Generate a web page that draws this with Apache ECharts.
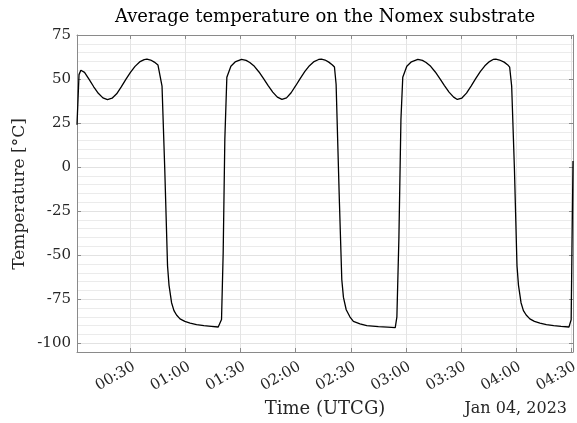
<!DOCTYPE html>
<html><head><meta charset="utf-8">
<script src="https://cdn.jsdelivr.net/npm/echarts@6/dist/echarts.min.js"></script>
<style>html,body{margin:0;padding:0;background:#fff}#c{width:577px;height:423px}</style>
</head><body><div id="c"></div><script>
// minutes after 2023-01-04 00:00 UTCG
const timeMin = [0.9,2.0,3.0,3.8,5.0,7.5,10.0,12.5,15.0,17.5,20.0,22.5,25.0,27.5,30.0,32.5,35.0,37.5,39.0,41.0,43.0,45.0,45.8,47.2,48.7,50.2,51.0,52.4,53.7,55.1,57.0,59.6,62.5,66.0,70.0,74.0,77.8,79.6,80.5,81.4,82.5,84.7,87.0,90.5,93.0,95.0,97.5,100.0,102.5,105.0,107.5,110.0,112.5,115.0,117.5,120.0,122.5,125.0,127.5,130.0,132.5,134.0,136.0,138.0,140.0,141.1,142.0,143.8,145.1,146.0,147.5,149.5,151.4,155.0,158.7,165.0,170.0,174.2,175.1,176.2,177.3,178.3,180.5,183.0,186.5,189.0,191.0,193.5,196.0,198.5,201.0,203.5,206.0,208.0,210.5,213.0,215.5,218.0,220.5,223.0,225.5,227.5,229.0,231.0,233.5,235.5,236.5,237.6,239.1,240.5,241.3,242.7,244.0,245.5,247.5,250.0,253.0,256.5,260.5,264.5,268.8,270.0,271.0];
const tempC = [24.0,52.5,55.0,55.5,53.8,49.8,45.6,41.9,39.3,38.3,39.1,41.6,45.5,49.8,53.8,57.2,59.7,61.0,61.3,60.8,59.6,57.9,56.8,46.0,-1.5,-56.0,-67.0,-77.0,-81.5,-84.0,-86.2,-87.6,-88.6,-89.5,-90.0,-90.4,-90.8,-86.6,-48.8,15.6,51.0,57.3,59.7,61.2,60.6,59.4,57.2,54.0,50.2,46.3,42.6,39.7,38.4,39.3,42.2,46.2,50.4,54.3,57.6,59.9,61.1,61.3,60.8,59.6,58.0,56.8,47.0,-20.0,-64.0,-74.0,-81.0,-85.0,-87.6,-89.0,-90.0,-90.6,-90.9,-91.2,-85.0,-40.0,27.0,51.0,57.3,59.8,61.2,60.6,59.4,57.2,54.0,50.2,46.3,42.6,39.7,38.4,39.2,42.0,46.0,50.2,54.2,57.5,59.9,61.1,61.3,60.8,59.6,58.0,56.8,46.0,-1.0,-56.0,-67.0,-77.0,-81.5,-84.0,-86.2,-87.6,-88.6,-89.5,-90.0,-90.4,-90.8,-86.6,3.5];
const xTicks = [30,60,90,120,150,180,210,240,270];
const yTicks = [-100,-75,-50,-25,0,25,50,75];
const titleText = 'Average temperature on the Nomex substrate';
const xName = 'Time (UTCG)';
const yName = 'Temperature [°C]';
const dateText = 'Jan 04, 2023';

const X_MIN = 0.9, X_MAX = 271.0, Y_MIN = -105, Y_MAX = 75;
const FONT = 'DejaVu Serif';
const fmtTime = v => {
  const m = Math.round(v);
  return String(Math.floor(m/60)).padStart(2,'0') + ':' + String(m%60).padStart(2,'0');
};
const axisCol = '#8a8a8a', txtCol = '#262626';

const chart = echarts.init(document.getElementById('c'), null, {renderer:'canvas'});
const hidden = {show:false};
chart.setOption({
  animation: false,
  backgroundColor: '#fff',
  grid: {left: 77, right: 4, top: 35, bottom: 71, containLabel:false, outerBoundsMode:'none'},
  xAxis: [
    {type:'value', min:X_MIN, max:X_MAX, position:'bottom',
     axisLine:{show:true, onZero:false, lineStyle:{color:axisCol, width:1}},
     axisTick:{show:true, inside:true, length:4, customValues:xTicks, lineStyle:{color:axisCol}},
     axisLabel:{show:true, customValues:xTicks, rotate:30, margin:7, verticalAlign:'top', formatter:fmtTime,
                color:txtCol, fontFamily:FONT, fontSize:15, hideOverlap:false},
     splitLine:{show:true, lineStyle:{color:'#e4e4e4', width:1}}},
    {type:'value', min:X_MIN, max:X_MAX, position:'top',
     axisLine:{show:true, onZero:false, lineStyle:{color:axisCol, width:1}},
     axisTick:{show:true, inside:true, length:4, customValues:xTicks, lineStyle:{color:axisCol}},
     axisLabel:hidden, splitLine:hidden}
  ],
  yAxis: [
    {type:'value', min:Y_MIN, max:Y_MAX, interval:5,
     axisLine:hidden, axisTick:hidden, axisLabel:hidden,
     splitLine:{show:true, lineStyle:{color:'#ebebeb', width:1}}},
    {type:'value', min:Y_MIN, max:Y_MAX, position:'left',
     axisLine:{show:true, onZero:false, lineStyle:{color:axisCol, width:1}},
     axisTick:{show:true, inside:true, length:4, customValues:yTicks, lineStyle:{color:axisCol}},
     axisLabel:{show:true, customValues:yTicks, margin:6, color:txtCol, fontFamily:FONT, fontSize:15},
     splitLine:{show:true, customValues:yTicks, lineStyle:{color:'#e2e2e2', width:1}}},
    {type:'value', min:Y_MIN, max:Y_MAX, position:'right',
     axisLine:{show:true, onZero:false, lineStyle:{color:axisCol, width:1}},
     axisTick:{show:true, inside:true, length:4, customValues:yTicks, lineStyle:{color:axisCol}},
     axisLabel:hidden, splitLine:hidden}
  ],
  series: [{
    type:'line', xAxisIndex:0, yAxisIndex:0, showSymbol:false, smooth:false,
    lineStyle:{color:'#000', width:1.3}, z:5,
    data: timeMin.map((t,i)=>[t,tempC[i]])
  }],
  graphic: [
    {type:'text', x:325, y:8, style:{text:titleText, font:'18px "DejaVu Serif"', fill:'#000', textAlign:'center', textVerticalAlign:'top'}},
    {type:'text', x:325, y:400, style:{text:xName, font:'18px "DejaVu Serif"', fill:txtCol, textAlign:'center', textVerticalAlign:'top'}},
    {type:'text', x:567, y:401, style:{text:dateText, font:'16px "DejaVu Serif"', fill:txtCol, textAlign:'right', textVerticalAlign:'top'}},
    {type:'text', x:20, y:194, rotation:Math.PI/2, style:{text:yName, font:'17px "DejaVu Serif"', fill:txtCol, textAlign:'center', textVerticalAlign:'middle'}}
  ]
});
</script></body></html>
